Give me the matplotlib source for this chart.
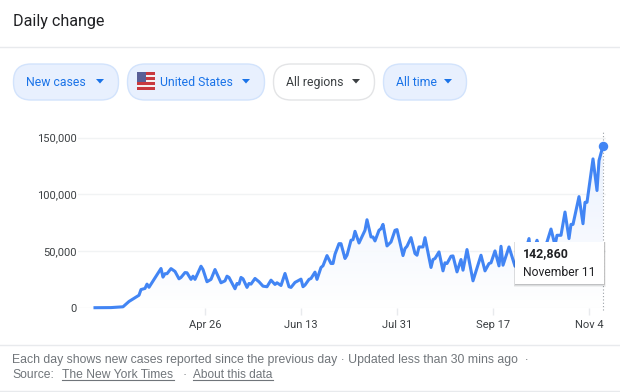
"""Daily change panel: US new cases, drawn as chart axes plus a pixel overlay for the page bits."""
import matplotlib
matplotlib.use("Agg")
import matplotlib.pyplot as plt
import numpy as np
from matplotlib.patches import FancyBboxPatch, Polygon, Rectangle

plt.rcParams["font.family"] = ["Roboto", "DejaVu Sans"]

# days since the first reported day, and new cases
days = [0, 8, 14, 17, 20, 22, 23, 25, 26, 27, 33, 34, 35, 36, 38, 40, 42, 43, 45, 46, 48,
        49, 50, 53, 54, 56, 58, 60, 63, 65, 66, 67, 70, 71, 72, 73, 74, 76, 77, 78, 80,
        82, 84, 86, 88, 90, 91, 93, 95, 97, 98, 100, 103, 104, 105, 107, 108, 110, 111, 113, 114,
        116, 118, 119, 120, 122, 123, 125, 126, 128, 129, 130, 132, 135, 136, 138, 139, 140, 142, 143, 144,
        146, 148, 150, 151, 153, 154, 155, 156, 158, 160, 161, 162, 164, 165, 168, 169, 170, 172, 174, 175,
        176, 178, 179, 181, 183, 184, 186, 189, 193, 195, 197, 198, 200, 202, 203, 204, 207, 210, 212, 214,
        217, 218, 221, 223, 226, 228, 230, 231, 233, 235, 237, 238, 239, 242, 244, 245, 246, 249, 251, 252, 254]
new_cases = [0, 100, 800, 5500, 8800, 11000, 16000, 17000, 20800, 18000, 34600, 27000, 30000, 30000, 34500, 32000, 25500, 26700, 31000, 30800, 25000,
             27800, 25000, 36600, 33700, 22900, 25000, 33700, 22000, 23700, 27800, 26700, 16700, 21400, 20800, 26700, 25500, 17900, 21400, 20800, 25800,
             22900, 19000, 18500, 24300, 20500, 22000, 19600, 30200, 18500, 17900, 22300, 25200, 18500, 20000, 25000, 25800, 31400, 25000, 35500, 37000,
             46000, 39000, 39000, 47200, 56500, 56500, 43400, 46300, 59500, 60000, 67400, 57100, 68300, 77600, 62400, 62400, 58900, 68300, 69700, 73500,
             54500, 58000, 68300, 68900, 53600, 46000, 52200, 54200, 61800, 47800, 46300, 53600, 53600, 61800, 35500, 42500, 43400, 49200, 32500, 39600,
             39000, 45400, 45700, 31600, 42500, 33100, 51300, 23700, 46300, 32500, 39000, 39600, 50100, 36900, 54200, 37500, 53600, 36600, 47200, 42000,
             61000, 44000, 59500, 47500, 58000, 69400, 55000, 63900, 63900, 84400, 61000, 73500, 73500, 98000, 74100, 93000, 93000, 131300, 103400, 129800, 142860]

y_ticks = [0, 50000, 100000, 150000]
x_tick_days = [55, 103, 151, 199, 247]
x_tick_labels = ["Apr 26", "Jun 13", "Jul 31", "Sep 17", "Nov 4"]

# pill label, left, right
pills = [("New cases", 13, 119), ("United States", 127, 265), ("All regions", 273, 375), ("All time", 383, 467)]

W, H = 620, 392
BLUE = "#4285f4"
GRID = "#f1f3f4"
GREY = "#70757a"
FOOT_FONT = ["Liberation Sans", "DejaVu Sans"]

fig = plt.figure(figsize=(W / 100, H / 100), dpi=100)

# chart axes, pixel box chosen so one day is 2 px
left, right, top, bottom = 78, 606, 130, 307.7
ax = fig.add_axes([left / W, 1 - bottom / H, (right - left) / W, (bottom - top) / H])
ax.set_xlim((left - 95) / 2, (right - 95) / 2)
ax.set_ylim(0, (bottom - top) / 170 * 150000)
for s in ax.spines.values():
    s.set_visible(False)
ax.set_yticks(y_ticks)
ax.set_yticklabels([f"{v:,}" for v in y_ticks])
ax.set_xticks(x_tick_days)
ax.set_xticklabels(x_tick_labels)
ax.tick_params(axis="y", length=0, pad=1, labelsize=8, labelcolor="#3c4043")
ax.tick_params(axis="x", length=5, width=1, color="#e8eaed", pad=3.5, labelsize=8, labelcolor="#3c4043")
ax.grid(axis="y", color=GRID, linewidth=1)
ax.set_axisbelow(True)

# pale gradient under the line
grad = np.linspace(0, 1, 256).reshape(-1, 1)
cmap = matplotlib.colors.LinearSegmentedColormap.from_list("fade", ["#e8f0fe", "#ffffff"])
img = ax.imshow(grad, cmap=cmap, aspect="auto", extent=[0, 254, 0, 150000], zorder=1, alpha=0.9)
poly = ax.fill_between(days, new_cases, 0, color="none")
img.set_clip_path(poly.get_paths()[0], transform=ax.transData)
ax.set_xlim((left - 95) / 2, (right - 95) / 2)
ax.set_ylim(0, (bottom - top) / 170 * 150000)

ax.plot(days, new_cases, color=BLUE, linewidth=2.2, solid_joinstyle="round", zorder=3, clip_on=False)
ax.plot(days[-1], new_cases[-1], "o", color=BLUE, markersize=5.8, zorder=4, clip_on=False)
ax.plot([days[-1], days[-1]], [-2000, ax.get_ylim()[1]], color="#9aa0a6", linewidth=0.8,
        linestyle=(0, (1, 2)), zorder=2, clip_on=False)

# overlay in page pixels for the header, filter pills, tooltip and footer
ov = fig.add_axes([0, 0, 1, 1], zorder=5)
ov.set_xlim(0, W)
ov.set_ylim(H, 0)
ov.axis("off")

ov.text(13, 21.5, "Daily change", fontsize=11.6, color="#202124", va="center")
ov.plot([0, W], [47, 47], color="#e8eaed", linewidth=1)

for i, (label, x0, x1) in enumerate(pills):
    neutral = label == "All regions"
    face = "#ffffff" if neutral else "#e8f0fe"
    edge = "#e3e4e6" if neutral else "#d2e3fc"
    color = "#3c4043" if neutral else "#1a73e8"
    ov.add_patch(FancyBboxPatch((x0 + 18, 81.5), x1 - x0 - 36, 1,
                                boxstyle="round,pad=17.5,rounding_size=17.5",
                                facecolor=face, edgecolor=edge, linewidth=1))
    tx = x0 + 13
    if label == "United States":
        tx = x0 + 33
        for k in range(7):
            c = "#c8393f" if k % 2 == 0 else "#f4f0f0"
            ov.add_patch(Rectangle((137, 72 + k * 2.57), 18, 2.57, facecolor=c, edgecolor="none"))
        ov.add_patch(Rectangle((137, 72), 9, 10, facecolor="#5a5f96", edgecolor="none"))
    ov.text(tx, 82, label, fontsize=8.8, color=color, va="center")
    ax_r = x1 - 15
    ov.add_patch(Polygon([(ax_r - 8, 79), (ax_r, 79), (ax_r - 4, 83.5)], facecolor=color, edgecolor="none"))

# tooltip with soft shadow
for off, a in [(3, 0.05), (2, 0.08), (1, 0.12)]:
    ov.add_patch(Rectangle((515 - off * 0.5, 242), 89 + off, 42 + off, facecolor="#000000", alpha=a, edgecolor="none"))
ov.add_patch(Rectangle((515, 242), 89, 42, facecolor="white", edgecolor="none"))
ov.text(523, 254, f"{new_cases[-1]:,}", fontsize=8.9, fontweight="bold", color="#202124", va="center")
ov.text(523, 273, "November 11", fontsize=8.7, color="#202124", va="center")

# footer
ov.plot([0, W], [344.5, 344.5], color="#e8eaed", linewidth=1)
ov.plot([0, W], [391, 391], color="#e8eaed", linewidth=1)
ov.text(12, 360, "Each day shows new cases reported since the previous day · Updated less than 30 mins ago  ·",
        fontsize=8.85, family=FOOT_FONT, color=GREY, va="center")
ov.text(12, 375, "Source:", fontsize=8.7, family=FOOT_FONT, color=GREY, va="center")
ov.text(62, 375, "The New York Times", fontsize=8.7, family=FOOT_FONT, color=GREY, va="center")
ov.plot([62, 174], [380, 380], color=GREY, linewidth=0.8)
ov.text(182, 375, "·", fontsize=8.7, family=FOOT_FONT, color=GREY, va="center")
ov.text(193, 375, "About this data", fontsize=8.6, family=FOOT_FONT, color=GREY, va="center")
ov.plot([193, 273], [380, 380], color=GREY, linewidth=0.8)

fig.savefig("out.png", dpi=100)
